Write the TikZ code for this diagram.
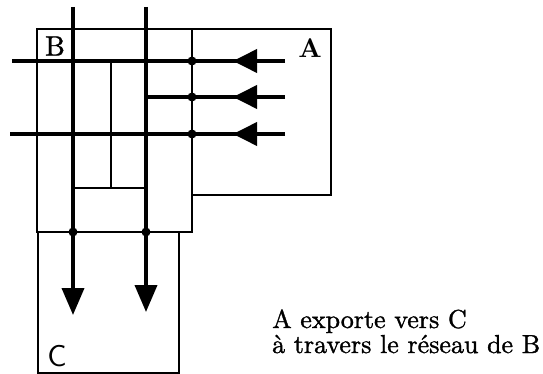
\documentclass[tikz,border=0pt]{standalone}
\usepackage{fontspec}
\newfontfamily\capfont{lmroman10-regular.otf}[FakeBold=1.2]
\newfontfamily\boldlblfont{lmroman10-bold.otf}
\newfontfamily\sanslblfont{lmsans10-regular.otf}
\usetikzlibrary{arrows.meta,decorations.markings}
\begin{document}
\begin{tikzpicture}[x=1pt,y=-1pt,
  box/.style={draw,line width=1.8pt,rectangle,inner sep=0pt,outer sep=0pt},
  wire/.style={line width=3.8pt},
  midwire/.style={line width=2.6pt},
  dot/.style={circle,fill,inner sep=0pt,minimum size=9pt},
  lbl/.style={font=\capfont\fontsize{26}{26}\selectfont,inner sep=0pt},
  tipdown/.style={-{Triangle[length=27pt,width=22pt]}},
  midtip/.style={postaction={decorate},decoration={markings,
     mark=at position 52pt with {\arrow{Triangle[length=24pt,width=23pt]}}}}
]
\useasboundingbox (0,0) rectangle (543,374);
% boxes
\node[box,anchor=north west,minimum width=155pt,minimum height=203pt] (B) at (37,29) {};
\node[box,anchor=north west,minimum width=139pt,minimum height=166pt] (A) at (192,29) {};
\node[box,anchor=north west,minimum width=141pt,minimum height=141pt] (C) at (38,232) {};
% labels
\node[lbl,font=\capfont\fontsize{28}{28}\selectfont] (lB) at (55,46) {B};
\node[lbl,font=\boldlblfont\fontsize{27}{27}\selectfont] (lA) at (310,48) {A};
\node[lbl,font=\sanslblfont\fontsize{30}{30}\selectfont] (lC) at (57,356) {C};
% coordinates
\coordinate (v1t) at (73,7);
\coordinate (v1e) at (73,315);
\coordinate (v2t) at (146,7);
\coordinate (v2e) at (146,312);
\coordinate (h1r) at (285,61);
\coordinate (h1l) at (12,61);
\coordinate (h2r) at (285,97);
\coordinate (h2l) at (146,97);
\coordinate (h3r) at (285,134);
\coordinate (h3l) at (10,134);
\coordinate (i1) at (111,61);
\coordinate (i2) at (111,188);
\coordinate (i3) at (73,188);
\coordinate (i4) at (146,188);
% inner network of B
\draw[midwire] (i1) -- (i2);
\draw[midwire] (i3) -- (i4);
% vertical lines to C
\draw[wire,tipdown] (v1t) -- (v1e);
\draw[wire,tipdown] (v2t) -- (v2e);
% horizontal lines from A
\draw[wire,midtip] (h1r) -- (h1l);
\draw[wire,midtip] (h2r) -- (h2l);
\draw[wire,midtip] (h3r) -- (h3l);
% junction dots
\node[dot] (d1) at (192,61) {};
\node[dot] (d2) at (192,97) {};
\node[dot] (d3) at (192,134) {};
\node[dot] (d4) at (73,232) {};
\node[dot] (d5) at (146,232) {};
% caption
\node[lbl,anchor=base west] (t1) at (272,328) {A exporte vers C};
\node[lbl,anchor=base west] (t2) at (272,353) {à travers le réseau de B};
\end{tikzpicture}
\end{document}
